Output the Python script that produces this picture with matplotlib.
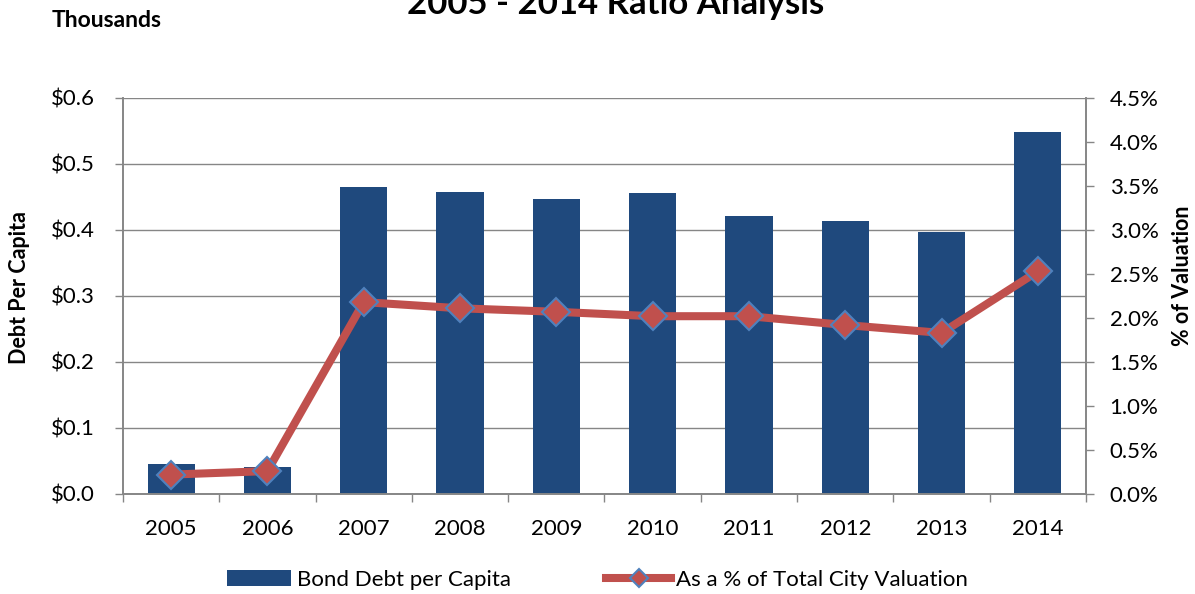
import matplotlib
matplotlib.use("Agg")
import matplotlib.pyplot as plt
import numpy as np

years = ["2005", "2006", "2007", "2008", "2009", "2010", "2011", "2012", "2013", "2014"]
debt_per_capita = [0.045, 0.041, 0.465, 0.458, 0.447, 0.456, 0.421, 0.414, 0.397, 0.548]
pct_valuation = [0.22, 0.26, 2.18, 2.11, 2.07, 2.02, 2.02, 1.92, 1.83, 2.53]
left_ticks = [0.0, 0.1, 0.2, 0.3, 0.4, 0.5, 0.6]
right_ticks = [0.0, 0.5, 1.0, 1.5, 2.0, 2.5, 3.0, 3.5, 4.0, 4.5]

plt.rcParams['font.family'] = ['Lato', 'DejaVu Sans']

fig = plt.figure(figsize=(11.95, 5.94), dpi=100)
ax = fig.add_axes([0.1029, 0.1684, 0.8059, 0.6667])
ax2 = ax.twinx()

grey = "#868686"
x = np.arange(len(years))
bars = ax.bar(x, debt_per_capita, width=0.49, color="#1F497D", zorder=2,
              label="Bond Debt per Capita")
ax.set_xlim(-0.5, len(years) - 0.5)
ax.set_ylim(0, 0.6)
ax.set_yticks(left_ticks)
ax.set_yticklabels([f"${v:.1f}" for v in left_ticks])
ax.yaxis.grid(True, color=grey, linewidth=1, zorder=0)
ax.set_axisbelow(True)
ax.set_xticks(x)
ax.set_xticklabels(years)
ax.set_xticks(np.arange(-0.5, len(years)), minor=True)
ax.tick_params(axis='x', which='major', length=0, labelsize=16, pad=18)
ax.tick_params(axis='x', which='minor', length=6, color=grey, width=1)
ax.tick_params(axis='y', length=6, color=grey, width=1, labelsize=16, pad=14)

line, = ax2.plot(x, pct_valuation, color="#C0504D", linewidth=5.8, marker='D',
                 markersize=14, markerfacecolor="#C0504D", markeredgecolor="#4F81BD",
                 markeredgewidth=1.5, zorder=3, label="As a % of Total City Valuation")
ax2.set_ylim(0, 4.5)
ax2.set_yticks(right_ticks)
ax2.set_yticklabels([f"{v:.1f}%" for v in right_ticks])
ax2.tick_params(axis='y', length=6, color=grey, width=1, labelsize=16, pad=11)

for a in (ax, ax2):
    a.spines['top'].set_visible(False)
    for s in ('left', 'right', 'bottom'):
        a.spines[s].set_color(grey)
        a.spines[s].set_linewidth(1.2)

ax.set_ylabel("Debt Per Capita", fontsize=15.5, fontweight='bold')
ax.yaxis.set_label_coords(-0.097, 0.52)
ax2.set_ylabel("% of Valuation", fontsize=15.5, fontweight='bold', rotation=90)
ax2.yaxis.set_label_coords(1.089, 0.55)

fig.text(616 / 1195, 1 - 14 / 594, "2005 - 2014 Ratio Analysis", ha='center', va='baseline',
         fontsize=25, fontweight='bold')
fig.text(52 / 1195, 1 - 27 / 594, "Thousands", ha='left', va='baseline',
         fontsize=16.5, fontweight='bold')

fig.legend([bars, line], ["Bond Debt per Capita", "As a % of Total City Valuation"],
           loc='center', bbox_to_anchor=(0.5, 1 - 580 / 594), ncol=2, frameon=False,
           fontsize=16, handlelength=2.9, handletextpad=0.25, columnspacing=4.3,
           markerscale=0.65)

fig.savefig("out.png", dpi=100)
